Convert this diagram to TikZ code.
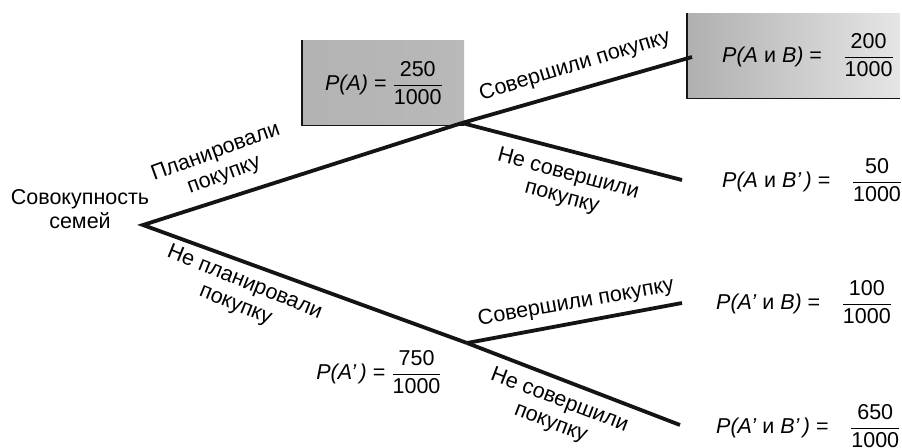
\documentclass[tikz,border=0pt]{standalone}
\usepackage{amsmath}
\usepackage{fontspec}
\setmainfont{Liberation Sans}
\usetikzlibrary{positioning}
\definecolor{Ink}{gray}{0.08}
\newcommand{\frc}[2]{$\dfrac{\text{#1}}{\text{#2}}$}

\begin{document}
\begin{tikzpicture}[x=1pt,y=-1pt,font=\fontsize{21.5}{24}\selectfont,
    branch/.style={draw=Ink,line width=3.8pt,line join=miter},
    edge/.style={draw=Ink,line width=1.8pt},
    lbl/.style={align=center,inner sep=1pt},
    prob/.style={anchor=west,inner sep=0pt}]
    \useasboundingbox (0,0) rectangle (902,447);
    % shaded boxes
    \node[anchor=north west,minimum width=162pt,minimum height=85pt,
      left color=gray!60,middle color=gray!18,right color=gray!55] (pabox) at (302,40) {};
    \node[anchor=north west,minimum width=213pt,minimum height=85pt,
      left color=gray!62,middle color=gray!22,right color=gray!20] (abbox) at (687,13) {};
    \draw[edge] (pabox.north west) -- (pabox.south west) -- (pabox.south east);
    \draw[edge] (abbox.north west) -- (abbox.south west) -- (abbox.south east);
    % tree
    \coordinate (root) at (143,225);
    \coordinate (ja) at (462,123);
    \coordinate (jn) at (467,343);
    \coordinate (eab) at (692,57);
    \coordinate (eabn) at (682,180);
    \coordinate (enb) at (682,303);
    \coordinate (enbn) at (680,425);
    \draw[branch] (ja) -- (root) -- (jn);
    \draw[branch] (jn) -- (enbn);
    \draw[branch] (ja) -- (eab);
    \draw[branch] (ja) -- (eabn);
    \draw[branch] (jn) -- (enb);
    % labels
    \node[lbl] (tot) at (80,209) {Совокупность\\семей};
    \node[lbl,rotate=20] (plan) at (220,164) {Планировали\\покупку};
    \node[lbl,rotate=-22] (noplan) at (240,294) {Не планировали\\покупку};
    \node[lbl,rotate=17] (buya) at (575,66) {Совершили покупку};
    \node[lbl,rotate=-15] (nobuya) at (565,186) {Не совершили\\покупку};
    \node[lbl,rotate=10] (buyn) at (576,303) {Совершили покупку};
    \node[lbl,rotate=-21] (nobuyn) at (555,412) {Не совершили\\покупку};
    % probabilities
    \node (pa) at (384,83) {\textit{P(A)} = \frc{250}{1000}};
    \node (pna) at (379,372) {\textit{P(A’\,)} = \frc{750}{1000}};
    \node[prob] (pab) at (722,55) {\textit{P(A} и \textit{B)} =\quad\frc{200}{1000}};
    \node[prob] (pabn) at (722,180) {\textit{P(A} и \textit{B’\,)} =\quad\frc{50}{1000}};
    \node[prob] (pnab) at (716,302) {\textit{P(A’} и \textit{B)} =\quad\frc{100}{1000}};
    \node[prob] (pnabn) at (716,426) {\textit{P(A’} и \textit{B’\,)} =\quad\frc{650}{1000}};
\end{tikzpicture}
\end{document}
